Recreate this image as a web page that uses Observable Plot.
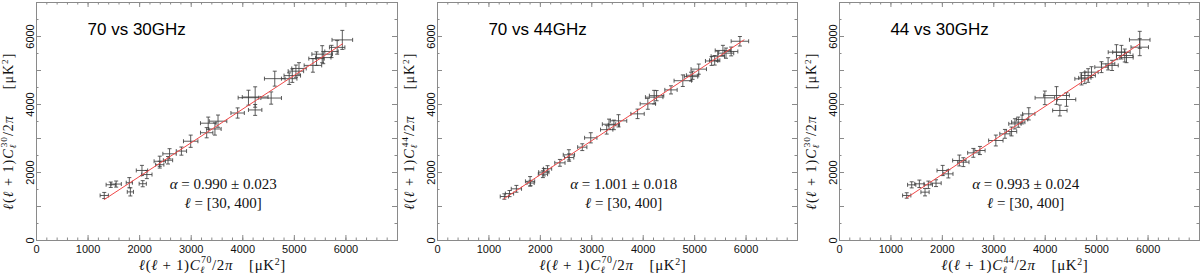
<!DOCTYPE html>
<html><head><meta charset="utf-8">
<script src="https://cdn.jsdelivr.net/npm/d3@7"></script>
<script src="https://cdn.jsdelivr.net/npm/@observablehq/plot@0.6"></script>
<style>
body{margin:0;background:#fff}
#row{display:flex;width:1200px;height:279px;overflow:hidden}
#row svg{display:block;flex:none}
</style>
</head><body><div id="row"></div>
<script>
// ---- tick values ----
const xTicks = [0, 1000, 2000, 3000, 4000, 5000, 6000];
const xMinor = d3.range(0, 7001, 200);
const yTicks = [0, 2000, 4000, 6000];
const yMajor = d3.range(0, 7001, 1000);
const yMinor = d3.range(500, 7000, 1000);

// ---- panel titles / annotations ----
const titles = ["70 vs 30GHz", "70 vs 44GHz", "44 vs 30GHz"];
const xBands = ["70", "70", "44"];
const yBands = ["30", "44", "30"];
const alphas = ["0.990 ± 0.023", "1.001 ± 0.018", "0.993 ± 0.024"];
const ellRange = "[30, 400]";

// ---- panel 1: 70 vs 30 GHz ----
const p1X  = [1314,1440,1545,1800,1820,2045,2060,2140,2390,2390,2550,2580,2810,2990,3300,3330,3460,3520,3900,4110,4240,4240,4550,4620,4900,4960,5030,5090,5360,5430,5540,5560,5720,5830,5930];
const p1Y  = [1324,1640,1660,1700,1430,2060,1670,1940,2330,2230,2360,2550,2630,2920,3170,3450,3280,3510,3750,4200,4220,3840,4190,4760,4760,4850,4980,5060,5150,5350,5480,5380,5560,5680,5900];
const p1EX = [80,90,100,60,60,110,70,100,110,80,90,130,100,140,120,150,120,170,130,200,250,130,200,200,150,160,150,140,170,150,200,150,130,150,200];
const p1EY = [90,80,90,150,120,150,90,120,150,100,110,150,120,180,150,180,180,180,150,220,300,160,180,220,170,200,180,170,200,200,250,180,180,200,280];
const p1FitX = [1314, 5934];
const p1FitY = [1206, 5784];

// ---- panel 2: 70 vs 44 GHz ----
const p2X  = [1300,1400,1534,1800,1810,2050,2067,2140,2380,2555,2560,2815,2980,3290,3335,3430,3520,3890,4090,4213,4260,4540,4770,4930,4960,5080,5330,5390,5450,5550,5610,5710,5880];
const p2Y  = [1294,1380,1520,1740,1690,1950,2010,2110,2284,2520,2440,2745,3020,3260,3420,3400,3520,3725,4020,4216,4260,4430,4700,4820,4860,5040,5280,5300,5420,5590,5510,5560,5860];
const p2EX = [80,80,100,90,70,90,100,80,100,110,90,90,120,120,130,110,160,130,150,170,140,120,170,130,120,150,120,100,130,150,150,130,170];
const p2EY = [80,90,100,140,80,100,110,90,100,150,110,100,150,130,150,140,180,140,160,200,150,120,170,130,120,150,130,140,150,150,150,130,140];
const p2FitX = [1290, 5960];
const p2FitY = [1225, 5900];

// ---- panel 3: 44 vs 30 GHz ----
const p3X  = [1307,1404,1553,1663,1728,1877,2006,2117,2330,2408,2602,2731,3040,3217,3346,3411,3476,3550,3680,3993,4220,4285,4414,4706,4770,4835,4900,5094,5223,5300,5385,5482,5547,5580,5838,5838];
const p3Y  = [1324,1637,1667,1422,1637,1686,2059,1960,2353,2304,2578,2647,2941,3137,3206,3431,3480,3560,3725,4196,4265,3824,4147,4755,4784,4853,4951,5098,5196,5150,5539,5539,5441,5380,5902,5686];
const p3EX = [80,80,90,80,80,100,110,90,130,110,110,100,140,100,100,120,130,110,120,190,250,140,180,130,120,140,130,130,130,120,160,170,160,130,200,170];
const p3EY = [80,90,110,110,110,100,150,120,160,130,130,120,160,130,130,150,150,130,180,200,260,160,200,180,170,200,160,160,180,150,220,200,190,150,250,250];
const p3FitX = [1307, 5838];
const p3FitY = [1255, 5784];

const panels = [
  {x: p1X, y: p1Y, ex: p1EX, ey: p1EY, fx: p1FitX, fy: p1FitY, ml: 36, mr: 3},
  {x: p2X, y: p2Y, ex: p2EX, ey: p2EY, fx: p2FitX, fy: p2FitY, ml: 37, mr: 3},
  {x: p3X, y: p3Y, ex: p3EX, ey: p3EY, fx: p3FitX, fy: p3FitY, ml: 39, mr: 1}
];

const W = 400, H = 279, MT = 2, MB = 39;
const SANS = "'Liberation Sans', Arial, Helvetica, sans-serif";
const SERIF = "'Liberation Serif', 'DejaVu Serif', 'Times New Roman', serif";
const frameColor = "#8a8a8a";
const ink = "#404040";

function addMathLabel(sel, band, size, gap, supRise) {
  const s = size * 0.66;
  sel.append("tspan").attr("font-style", "italic").text("ℓ");
  sel.append("tspan").text("(");
  sel.append("tspan").attr("font-style", "italic").text("ℓ");
  sel.append("tspan").text(" + 1)");
  sel.append("tspan").attr("font-style", "italic").text("C");
  sel.append("tspan").attr("font-style", "italic").attr("font-size", s).attr("dy", size * 0.22).text("ℓ");
  sel.append("tspan").attr("font-size", s).attr("dx", -s * 0.4).attr("dy", -size * (0.22 + supRise)).text(band);
  sel.append("tspan").attr("dy", size * supRise).text("/2");
  sel.append("tspan").attr("font-style", "italic").text("π");
  sel.append("tspan").attr("dx", gap).text("[μK");
  sel.append("tspan").attr("font-size", s).attr("dy", -size * 0.36).text("2");
  sel.append("tspan").attr("dy", size * 0.36).text("]");
}

panels.forEach((p, k) => {
  const data = p.x.map((x, i) => ({x, y: p.y[i], ex: p.ex[i], ey: p.ey[i]}));
  const fit = p.fx.map((x, i) => ({x, y: p.fy[i]}));
  const ux = 7000 / (W - p.ml - p.mr);   // data units per pixel (x)
  const uy = 7000 / (H - MT - MB);       // data units per pixel (y)
  const capX = 2 * ux, capY = 2 * uy;
  const plot = Plot.plot({
    width: W, height: H,
    marginLeft: p.ml, marginRight: p.mr, marginTop: MT, marginBottom: MB,
    x: {domain: [0, 7000], axis: null},
    y: {domain: [0, 7000], axis: null},
    style: {background: "white", overflow: "visible"},
    marks: [
      // inward ticks on all four sides
      Plot.ruleX(xMinor, {x: d => d, y1: 0, y2: 2.5 * uy, stroke: frameColor}),
      Plot.ruleX(xMinor, {x: d => d, y1: 7000, y2: 7000 - 2.5 * uy, stroke: frameColor}),
      Plot.ruleX(xTicks, {x: d => d, y1: 0, y2: 5 * uy, stroke: frameColor}),
      Plot.ruleX(xTicks, {x: d => d, y1: 7000, y2: 7000 - 5 * uy, stroke: frameColor}),
      Plot.ruleY(yMinor, {y: d => d, x1: 0, x2: 2.5 * ux, stroke: frameColor}),
      Plot.ruleY(yMinor, {y: d => d, x1: 7000, x2: 7000 - 2.5 * ux, stroke: frameColor}),
      Plot.ruleY(yMajor, {y: d => d, x1: 0, x2: 5 * ux, stroke: frameColor}),
      Plot.ruleY(yMajor, {y: d => d, x1: 7000, x2: 7000 - 5 * ux, stroke: frameColor}),
      // error bars
      Plot.link(data, {x1: d => d.x - d.ex, x2: d => d.x + d.ex, y1: "y", y2: "y", stroke: ink, strokeWidth: 1, strokeOpacity: 0.85}),
      Plot.link(data, {x1: "x", x2: "x", y1: d => d.y - d.ey, y2: d => d.y + d.ey, stroke: ink, strokeWidth: 1, strokeOpacity: 0.85}),
      // caps
      Plot.link(data, {x1: d => d.x - d.ex, x2: d => d.x - d.ex, y1: d => d.y - capY, y2: d => d.y + capY, stroke: ink, strokeOpacity: 0.85}),
      Plot.link(data, {x1: d => d.x + d.ex, x2: d => d.x + d.ex, y1: d => d.y - capY, y2: d => d.y + capY, stroke: ink, strokeOpacity: 0.85}),
      Plot.link(data, {x1: d => d.x - capX, x2: d => d.x + capX, y1: d => d.y - d.ey, y2: d => d.y - d.ey, stroke: ink, strokeOpacity: 0.85}),
      Plot.link(data, {x1: d => d.x - capX, x2: d => d.x + capX, y1: d => d.y + d.ey, y2: d => d.y + d.ey, stroke: ink, strokeOpacity: 0.85}),
      // fit line
      Plot.line(fit, {x: "x", y: "y", stroke: "#f04848", strokeWidth: 1}),
      Plot.frame({stroke: frameColor}),
      // tick labels
      Plot.axisX({ticks: xTicks, tickFormat: d => String(d), tickSize: 0, tickPadding: 5, label: null, fontSize: 11, fontFamily: SANS, fill: "#111"}),
      Plot.text(yTicks, {x: 0, y: d => d, text: d => String(d), rotate: -90, textAnchor: "middle", lineAnchor: "bottom", dx: -3, fontSize: 11, fontFamily: SANS, fill: "#111"}),
      // title
      Plot.text([titles[k]], {x: 990, y: 6030, text: d => d, textAnchor: "start", lineAnchor: "bottom", fontSize: 17, fontFamily: SANS, fill: "#000"})
    ]
  });
  const svg = d3.select(plot);
  const sx = plot.scale("x"), sy = plot.scale("y");
  // annotation
  const ax = sx.apply(3630);
  const t1 = svg.append("text").attr("x", ax).attr("y", sy.apply(1500))
    .attr("font-family", SERIF).attr("font-size", 15).attr("fill", "#111");
  t1.append("tspan").attr("font-style", "italic").text("α");
  t1.append("tspan").text(" = " + alphas[k]);
  const t2 = svg.append("text").attr("x", ax).attr("y", sy.apply(940))
    .attr("font-family", SERIF).attr("font-size", 15).attr("fill", "#111");
  t2.append("tspan").attr("font-style", "italic").text("ℓ");
  t2.append("tspan").text(" = " + ellRange);
  // x axis label
  const xl = svg.append("text").attr("x", sx.apply(3420)).attr("y", 270)
    .attr("text-anchor", "middle").attr("font-family", SERIF).attr("font-size", 15)
    .attr("letter-spacing", 0.6).attr("fill", "#111");
  addMathLabel(xl, xBands[k], 15, 16, 0.5);
  // y axis label
  const yl = svg.append("text").attr("transform", `translate(${p.ml - 23},${sy.apply(3200)}) rotate(-90)`)
    .attr("text-anchor", "middle").attr("font-family", SERIF).attr("font-size", 14)
    .attr("letter-spacing", 1).attr("fill", "#111");
  addMathLabel(yl, yBands[k], 14, 26, 0.42);
  document.getElementById("row").appendChild(plot);
});
</script>
</body></html>
